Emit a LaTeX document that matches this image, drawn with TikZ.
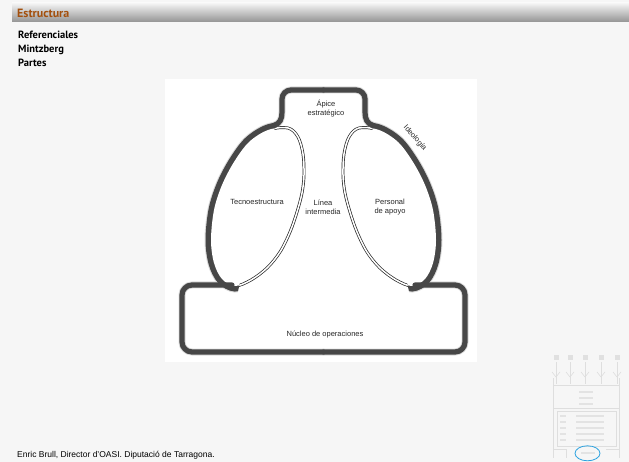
\documentclass[tikz,border=0pt]{standalone}
\usepackage{fontspec}
\setmainfont{Liberation Sans}
\newfontfamily\headfont{PT Sans}

\definecolor{pagebg}{HTML}{F6F6F6}
\definecolor{titlebrown}{HTML}{A3500E}
\definecolor{markblue}{HTML}{2AA2E0}

\tikzset{
  lobeoutline/.style={insert path={plot[smooth cycle,tension=0.55] coordinates {
    (288,-128) (298,-137) (303,-154) (304,-175) (302,-193) (297,-212)
    (290,-232) (280,-252) (267,-268) (251,-280) (235,-286) (222,-279)
    (214,-263) (211,-240) (214,-210) (222,-185) (234,-162) (249,-142)
    (268,-130)}}},
}

% outer side of the left lobe (region where the rim is drawn)
\newcommand\outerside{(130,-110) -- (279,-110) -- (236,-300) -- (130,-300) -- cycle}
% inner side of the left lobe (region where the double edge is drawn)
\newcommand\innerside{(279,-95) -- (330,-95) -- (330,-300) -- (236,-300) -- (279,-110) -- cycle}

% rim of the left lobe, drawn with the given style on its outer side only
\newcommand\loberim[1]{%
  \begin{scope}
    \clip \outerside;
    \draw[#1,lobeoutline];
  \end{scope}}
% white inside and double edge of the left lobe
\newcommand\lobebody{%
  \fill[white,lobeoutline];
  \begin{scope}
    \clip \innerside;
    \draw[lobeline,lobeoutline];
  \end{scope}}
% left half of the apex and of the operating core
\newcommand\halfframe[1]{%
  \draw[#1] (274,-125.5) .. controls (280,-123.5) and (282,-119) .. (282,-112)
    -- (282,-99) arc[start angle=180,end angle=90,radius=9] -- (323.5,-90);
  \draw[#1] (232,-285) -- (192,-285) arc[start angle=90,end angle=180,radius=10]
    -- (182,-342) arc[start angle=180,end angle=270,radius=10] -- (323.5,-352);}
\newcommand\mirrored[1]{\begin{scope}[shift={(647,0)},xscale=-1]#1\end{scope}}

\begin{document}
\begin{tikzpicture}[x=1pt,y=1pt,
  rim/.style={draw=black!72,line width=5.2pt,line cap=round,line join=round},
  rimhalo/.style={draw=black!14,line width=7pt,line cap=round,line join=round},
  loberimcore/.style={draw=black!72,line width=11pt},
  loberimhalo/.style={draw=black!14,line width=13pt},
  lobeline/.style={draw=black!85,line width=0.7pt,double=white,double distance=1.5pt},
  lbl/.style={font=\fontsize{7.5}{9}\selectfont,text=black!85,align=center,inner sep=0pt},
  thumb/.style={draw=black!13,line width=0.6pt},
  thumbtxt/.style={draw=black!11,line width=1.2pt},
]
\useasboundingbox (0,0) rectangle (629,-462);
\fill[pagebg] (0,0) rectangle (629,-462);

% title bar
\shade[top color=white!96!black,bottom color=black!42] (12,-3) rectangle (629,-22);
\node[anchor=west,inner sep=0pt,text=titlebrown,font=\headfont\bfseries\fontsize{12}{14}\selectfont]
  (title) at (17,-13) {Estructura};

\node[anchor=north west,inner sep=0pt,align=left,font=\headfont\bfseries\fontsize{10.5}{14}\selectfont]
  (topics) at (18,-31) {Referenciales\\Mintzberg\\Partes};

% figure area
\fill[white] (165,-79) rectangle (477,-362);

% soft halo of the rim
\loberim{loberimhalo}\mirrored{\loberim{loberimhalo}}
\halfframe{rimhalo}\mirrored{\halfframe{rimhalo}}
% lobes
\loberim{loberimcore}\mirrored{\loberim{loberimcore}}
\lobebody\mirrored{\lobebody}
% apex and operating core
\halfframe{rim}\mirrored{\halfframe{rim}}

\node[lbl] (apice) at (326,-108.5) {Ápice\\estratégico};
\node[lbl] (tecno) at (257,-202) {Tecnoestructura};
\node[lbl] (linea) at (323,-207) {Línea\\intermedia};
\node[lbl] (apoyo) at (390,-207) {Personal\\de apoyo};
\node[lbl] (nucleo) at (325,-335) {Núcleo de operaciones};
\node[lbl,rotate=-49] (ideo) at (415,-138) {Ideología};

% small overview sketch
\foreach \px in {556,570,585,601,617}{
  \fill[black!12] (\px-2.5,-355) rectangle (\px+2.5,-360);
  \draw[thumb] (\px,-362) -- (\px,-384);
  \draw[thumb] (\px-4,-372) -- (\px,-377) -- (\px+4,-372);
}
\draw[thumb] (553,-385) -- (619,-385);
\draw[thumb] (553,-378) -- (553,-458);
\draw[thumb] (619,-378) -- (619,-458);
\draw[thumb] (553,-408) -- (619,-408);
\foreach \py in {392,398,404}{\draw[thumbtxt] (579,-\py) -- (593,-\py);}
\draw[thumb] (557,-411) rectangle (616,-446);
\foreach \py in {416,422,428,434,440}{
  \draw[thumbtxt] (560,-\py) -- (566,-\py);
  \draw[thumbtxt] (576,-\py) -- (604,-\py);
}
\draw[thumb] (553,-449) -- (566,-449) -- (566,-458);
\draw[thumb] (606,-449) -- (619,-449);
\draw[thumbtxt] (581,-453) -- (595,-453);
\draw[markblue,line width=0.8pt] (587.5,-453.3) ellipse[x radius=12.5,y radius=7.5];

\node[anchor=west,inner sep=0pt,font=\fontsize{8.5}{10}\selectfont] (credit) at (17,-455)
  {Enric Brull, Director d'OASI. Diputació de Tarragona.};
\end{tikzpicture}
\end{document}
